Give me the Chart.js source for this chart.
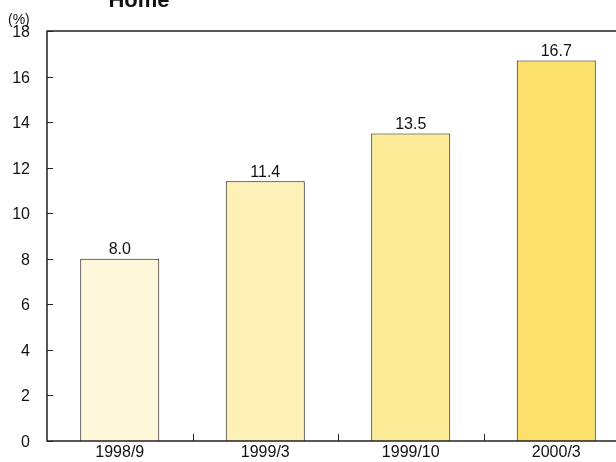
<!DOCTYPE html>
<html>
<head>
<meta charset="utf-8">
<script src="https://cdn.jsdelivr.net/npm/chart.js@4"></script>
<style>
  html, body { margin: 0; padding: 0; background: #fff; overflow: hidden; }
  #wrap { position: relative; width: 640px; height: 462px; }
</style>
</head>
<body>
<div id="wrap"><canvas id="homePlot" width="640" height="462"></canvas></div>
<script>
// Data
const periods = ['1998/9', '1999/3', '1999/10', '2000/3'];
const shares = [8.0, 11.4, 13.5, 16.7];
const barColors = ['#FFF7D9', '#FEF1B8', '#FDEC97', '#FBE06B'];
const yTicks = [0, 2, 4, 6, 8, 10, 12, 14, 16, 18];

const FONT = '"Liberation Sans", Arial, Helvetica, sans-serif';

// Frame, inward ticks, y labels, value labels and titles
const decorPlugin = {
    id: 'decorPlugin',
    afterDatasetsDraw: (chart) => {
        const {ctx, chartArea: {top, bottom, left, right}} = chart;
        const xScale = chart.scales.x;
        const yScale = chart.scales.y;

        ctx.save();
        ctx.strokeStyle = '#222';
        ctx.lineWidth = 1.5;
        ctx.strokeRect(left, top, right - left, bottom - top);

        // y ticks point into the plot, labels on the left
        ctx.lineWidth = 1;
        ctx.fillStyle = '#111';
        ctx.font = '16px ' + FONT;
        ctx.textAlign = 'right';
        ctx.textBaseline = 'middle';
        yTicks.forEach(function(v) {
            const y = Math.round(yScale.getPixelForValue(v)) + 0.5;
            ctx.beginPath();
            ctx.moveTo(left, y);
            ctx.lineTo(left + 6, y);
            ctx.stroke();
            ctx.fillText(String(v), left - 17, y + 1);
        });

        // x ticks between categories
        for (let i = 1; i < periods.length; i++) {
            const x = Math.round((xScale.getPixelForValue(i - 1) + xScale.getPixelForValue(i)) / 2) + 0.5;
            ctx.beginPath();
            ctx.moveTo(x, bottom);
            ctx.lineTo(x, bottom - 7);
            ctx.stroke();
        }

        // value labels above bars
        ctx.textAlign = 'center';
        ctx.textBaseline = 'bottom';
        const meta = chart.getDatasetMeta(0);
        meta.data.forEach(function(bar, i) {
            ctx.fillText(shares[i].toFixed(1), bar.x, bar.y - 1);
        });

        // title (cut at the top edge) and unit
        ctx.font = 'bold 22px ' + FONT;
        ctx.textBaseline = 'alphabetic';
        ctx.fillText('Home', 139, 7);
        ctx.font = '14px ' + FONT;
        ctx.textAlign = 'left';
        ctx.fillText('(%)', 8, 24);
        ctx.restore();
    }
};

const ctx = document.getElementById('homePlot').getContext('2d');

const homeChart = new Chart(ctx, {
    type: 'bar',
    data: {
        labels: periods,
        datasets: [{
            data: shares,
            backgroundColor: barColors,
            borderColor: '#111',
            borderWidth: 1,
            categoryPercentage: 1,
            barPercentage: 0.543
        }]
    },
    options: {
        responsive: false,
        animation: false,
        layout: {
            padding: { top: 31, right: 11, left: 0, bottom: 0 }
        },
        plugins: {
            legend: { display: false },
            tooltip: { enabled: false },
            title: { display: false }
        },
        scales: {
            x: {
                grid: { display: false, drawTicks: false },
                border: { display: false },
                ticks: {
                    color: '#111',
                    font: { family: FONT, size: 16 },
                    padding: 2,
                    maxRotation: 0
                },
                afterFit: function(scale) { scale.height = 21; }
            },
            y: {
                min: 0,
                max: 18,
                grid: { display: false, drawTicks: false },
                border: { display: false },
                ticks: { display: false },
                afterFit: function(scale) { scale.width = 47; }
            }
        }
    },
    plugins: [decorPlugin]
});
</script>
</body>
</html>
